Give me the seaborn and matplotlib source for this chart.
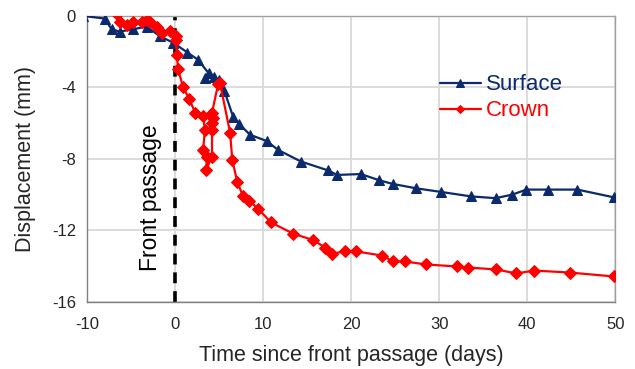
import matplotlib
matplotlib.use("Agg")
import matplotlib.pyplot as plt
import seaborn as sns
import pandas as pd

surface_t = [-10.5, -8.0, -7.2, -6.3, -4.8, -3.2, -1.7, -0.2, 1.4, 2.6, 3.8, 3.4, 4.4, 5.0, 5.6,
             6.6, 7.3, 8.5, 10.4, 11.7, 14.3, 17.4, 18.4, 21.1, 23.2, 24.7, 27.4, 30.2,
             33.6, 36.4, 38.3, 39.9, 42.3, 45.7, 49.8]
surface_d = [0.0, -0.15, -0.75, -0.88, -0.75, -0.6, -1.15, -1.5, -2.05, -2.45, -3.2, -3.5, -3.4, -3.6, -4.2,
             -5.65, -6.05, -6.65, -7.0, -7.5, -8.15, -8.65, -8.9, -8.85, -9.2, -9.4, -9.65, -9.85,
             -10.1, -10.2, -10.0, -9.72, -9.72, -9.72, -10.15]

crown_t = [-6.6, -6.25, -5.45, -4.77, -3.75, -3.18, -2.84, -2.05, -1.48, -0.57, 0.1, 0.1, 0.2, 0.35,
           0.9, 1.6, 2.3, 3.18, 3.4, 3.18, 3.64, 3.52, 4.2, 4.2, 4.2, 4.3, 4.2, 4.9, 5.1,
           6.25, 6.5, 7.05, 7.7, 8.4, 9.4, 10.9, 13.4, 15.7, 17.05, 17.85, 19.3, 20.6,
           23.5, 24.8, 26.1, 28.5, 32.0, 33.3, 36.5, 38.75, 40.8, 44.8, 49.8]
crown_d = [0.1, -0.34, -0.5, -0.34, -0.34, -0.22, -0.34, -0.61, -0.95, -0.84, -1.12, -1.34, -2.18, -3.0,
           -3.97, -4.65, -5.42, -5.59, -6.37, -7.49, -7.88, -8.6, -7.88, -6.37, -5.98, -5.7, -5.42, -3.8, -3.74,
           -6.54, -8.04, -9.27, -10.06, -10.34, -10.78, -11.56, -12.18, -12.55, -12.96, -13.3, -13.18, -13.18,
           -13.41, -13.74, -13.74, -13.91, -14.02, -14.08, -14.19, -14.41, -14.25, -14.36, -14.58]

x_ticks = [-10, 0, 10, 20, 30, 40, 50]
y_ticks = [0, -4, -8, -12, -16]

navy = "#0B2A6B"
red = "#FF0000"

sns.set_style("white")
plt.rcParams["font.family"] = ["Liberation Sans", "DejaVu Sans"]

fig = plt.figure(figsize=(6.35, 3.69), dpi=100)
ax = fig.add_axes([0.137, 0.182, 0.832, 0.775])

df_s = pd.DataFrame({"t": surface_t, "d": surface_d})
df_c = pd.DataFrame({"t": crown_t, "d": crown_d})

ax.axvline(0, color="black", lw=2.6, ls=(0, (3, 2.2)), zorder=1.5)

sns.lineplot(data=df_s, x="t", y="d", sort=False, estimator=None, ax=ax, color=navy,
             marker="^", markersize=7.5, markeredgecolor=navy, lw=1.6, label="Surface", zorder=3)
sns.lineplot(data=df_c, x="t", y="d", sort=False, estimator=None, ax=ax, color=red,
             marker="D", markersize=5.8, markeredgecolor=red, lw=1.6, label="Crown", zorder=4)

ax.set_xlim(-10, 50)
ax.set_ylim(-16, 0)
ax.set_xticks(x_ticks)
ax.set_yticks(y_ticks)
ax.set_xticklabels([str(v) for v in x_ticks], fontsize=12)
ax.set_yticklabels([str(v) for v in y_ticks], fontsize=12)
ax.grid(True, color="#D9D9D9", lw=1.3)
ax.set_axisbelow(True)
for side in ["top", "right"]:
    ax.spines[side].set_color("#A0A0A0")
    ax.spines[side].set_linewidth(1.0)
for side in ["left", "bottom"]:
    ax.spines[side].set_color("#808080")
    ax.spines[side].set_linewidth(1.0)
ax.tick_params(axis="y", length=5, color="#808080", width=1, pad=3)
ax.tick_params(axis="x", length=0, pad=11)

ax.set_xlabel("Time since front passage (days)", fontsize=15.5, labelpad=9)
ax.set_ylabel("Displacement (mm)", fontsize=15.5, labelpad=11)

ax.text(-2.8, -10.2, "Front passage", rotation=90, ha="center", va="center", fontsize=16.5, color="black")

leg = ax.legend(loc="upper left", bbox_to_anchor=(0.63, 0.865), frameon=False, fontsize=16,
                handlelength=1.85, handletextpad=0.22, labelspacing=0.22, markerscale=0.75,
                labelcolor="linecolor")

fig.savefig("out.png", dpi=100)
